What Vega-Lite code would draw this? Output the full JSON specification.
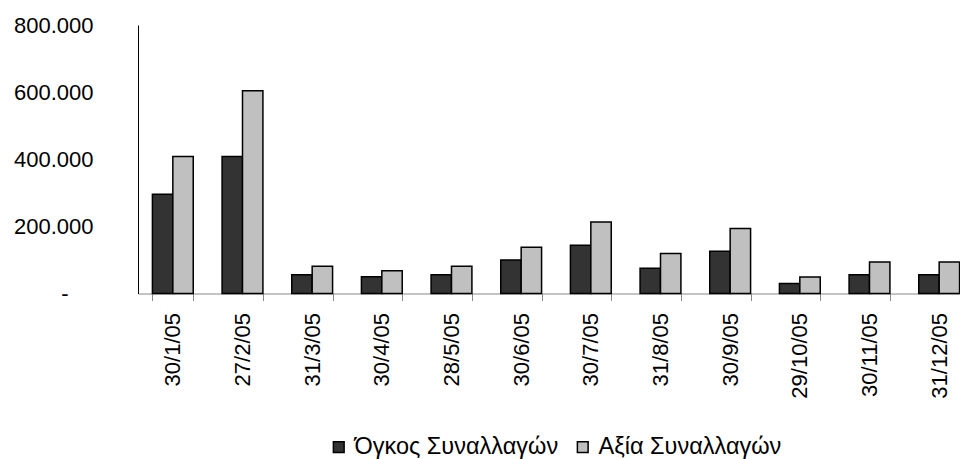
{
  "$schema": "https://vega.github.io/schema/vega-lite/v6.json",
  "autosize": {"type": "none"},
  "padding": {"left": 138, "top": 25, "right": 0, "bottom": 165},
  "width": 822,
  "height": 268.5,
  "background": "white",
  "config": {
    "font": "Liberation Sans",
    "view": {"stroke": null}
  },
  "data": {
    "values": [
      {"date": "30/1/05", "series": "Όγκος Συναλλαγών", "value": 296000},
      {"date": "30/1/05", "series": "Αξία Συναλλαγών", "value": 408000},
      {"date": "27/2/05", "series": "Όγκος Συναλλαγών", "value": 408000},
      {"date": "27/2/05", "series": "Αξία Συναλλαγών", "value": 604000},
      {"date": "31/3/05", "series": "Όγκος Συναλλαγών", "value": 56000},
      {"date": "31/3/05", "series": "Αξία Συναλλαγών", "value": 81000},
      {"date": "30/4/05", "series": "Όγκος Συναλλαγών", "value": 50000},
      {"date": "30/4/05", "series": "Αξία Συναλλαγών", "value": 68000},
      {"date": "28/5/05", "series": "Όγκος Συναλλαγών", "value": 56000},
      {"date": "28/5/05", "series": "Αξία Συναλλαγών", "value": 81000},
      {"date": "30/6/05", "series": "Όγκος Συναλλαγών", "value": 100000},
      {"date": "30/6/05", "series": "Αξία Συναλλαγών", "value": 138000},
      {"date": "30/7/05", "series": "Όγκος Συναλλαγών", "value": 144000},
      {"date": "30/7/05", "series": "Αξία Συναλλαγών", "value": 213000},
      {"date": "31/8/05", "series": "Όγκος Συναλλαγών", "value": 75000},
      {"date": "31/8/05", "series": "Αξία Συναλλαγών", "value": 119000},
      {"date": "30/9/05", "series": "Όγκος Συναλλαγών", "value": 126000},
      {"date": "30/9/05", "series": "Αξία Συναλλαγών", "value": 194000},
      {"date": "29/10/05", "series": "Όγκος Συναλλαγών", "value": 30000},
      {"date": "29/10/05", "series": "Αξία Συναλλαγών", "value": 49000},
      {"date": "30/11/05", "series": "Όγκος Συναλλαγών", "value": 56000},
      {"date": "30/11/05", "series": "Αξία Συναλλαγών", "value": 94000},
      {"date": "31/12/05", "series": "Όγκος Συναλλαγών", "value": 56000},
      {"date": "31/12/05", "series": "Αξία Συναλλαγών", "value": 94000}
    ]
  },
  "mark": {"type": "bar", "stroke": "black", "strokeWidth": 1.5},
  "encoding": {
    "x": {
      "field": "date",
      "type": "nominal",
      "sort": null,
      "scale": {"range": [0, 836], "paddingInner": 0.414, "paddingOuter": 0.207},
      "axis": {
        "title": null,
        "labelAngle": 270,
        "labelAlign": "right",
        "labelBaseline": "middle",
        "labelFontSize": 22,
        "labelColor": "black",
        "labelPadding": 12,
        "tickSize": 7,
        "tickColor": "#888888",
        "domainColor": "#888888",
        "tickBand": "extent",
        "labelBound": false,
        "labelOverlap": false
      }
    },
    "xOffset": {
      "field": "series",
      "type": "nominal",
      "sort": ["Όγκος Συναλλαγών", "Αξία Συναλλαγών"],
      "scale": {"paddingInner": 0, "paddingOuter": 0}
    },
    "y": {
      "field": "value",
      "type": "quantitative",
      "scale": {"domain": [0, 800000], "nice": false},
      "axis": {
        "title": null,
        "values": [0, 200000, 400000, 600000, 800000],
        "labelExpr": "datum.value == 0 ? '-' : replace(format(datum.value, ',.0f'), ',', '.')",
        "labelFontSize": 22,
        "labelColor": "black",
        "labelPadding": {"condition": {"test": "datum.value == 0", "value": 70}, "value": 45},
        "ticks": false,
        "grid": false,
        "domainColor": "black",
        "labelBaseline": "middle"
      }
    },
    "color": {
      "field": "series",
      "type": "nominal",
      "scale": {"domain": ["Όγκος Συναλλαγών", "Αξία Συναλλαγών"], "range": ["#333333", "#C0C0C0"]},
      "legend": {
        "title": null,
        "orient": "none",
        "direction": "horizontal",
        "legendX": 189,
        "legendY": 410,
        "symbolType": "square",
        "symbolSize": 115,
        "symbolStrokeColor": "black",
        "symbolStrokeWidth": 1.5,
        "labelFontSize": 23.5,
        "labelLimit": 0,
        "labelColor": "black",
        "labelOffset": 4,
        "columnPadding": 12
      }
    }
  }
}
